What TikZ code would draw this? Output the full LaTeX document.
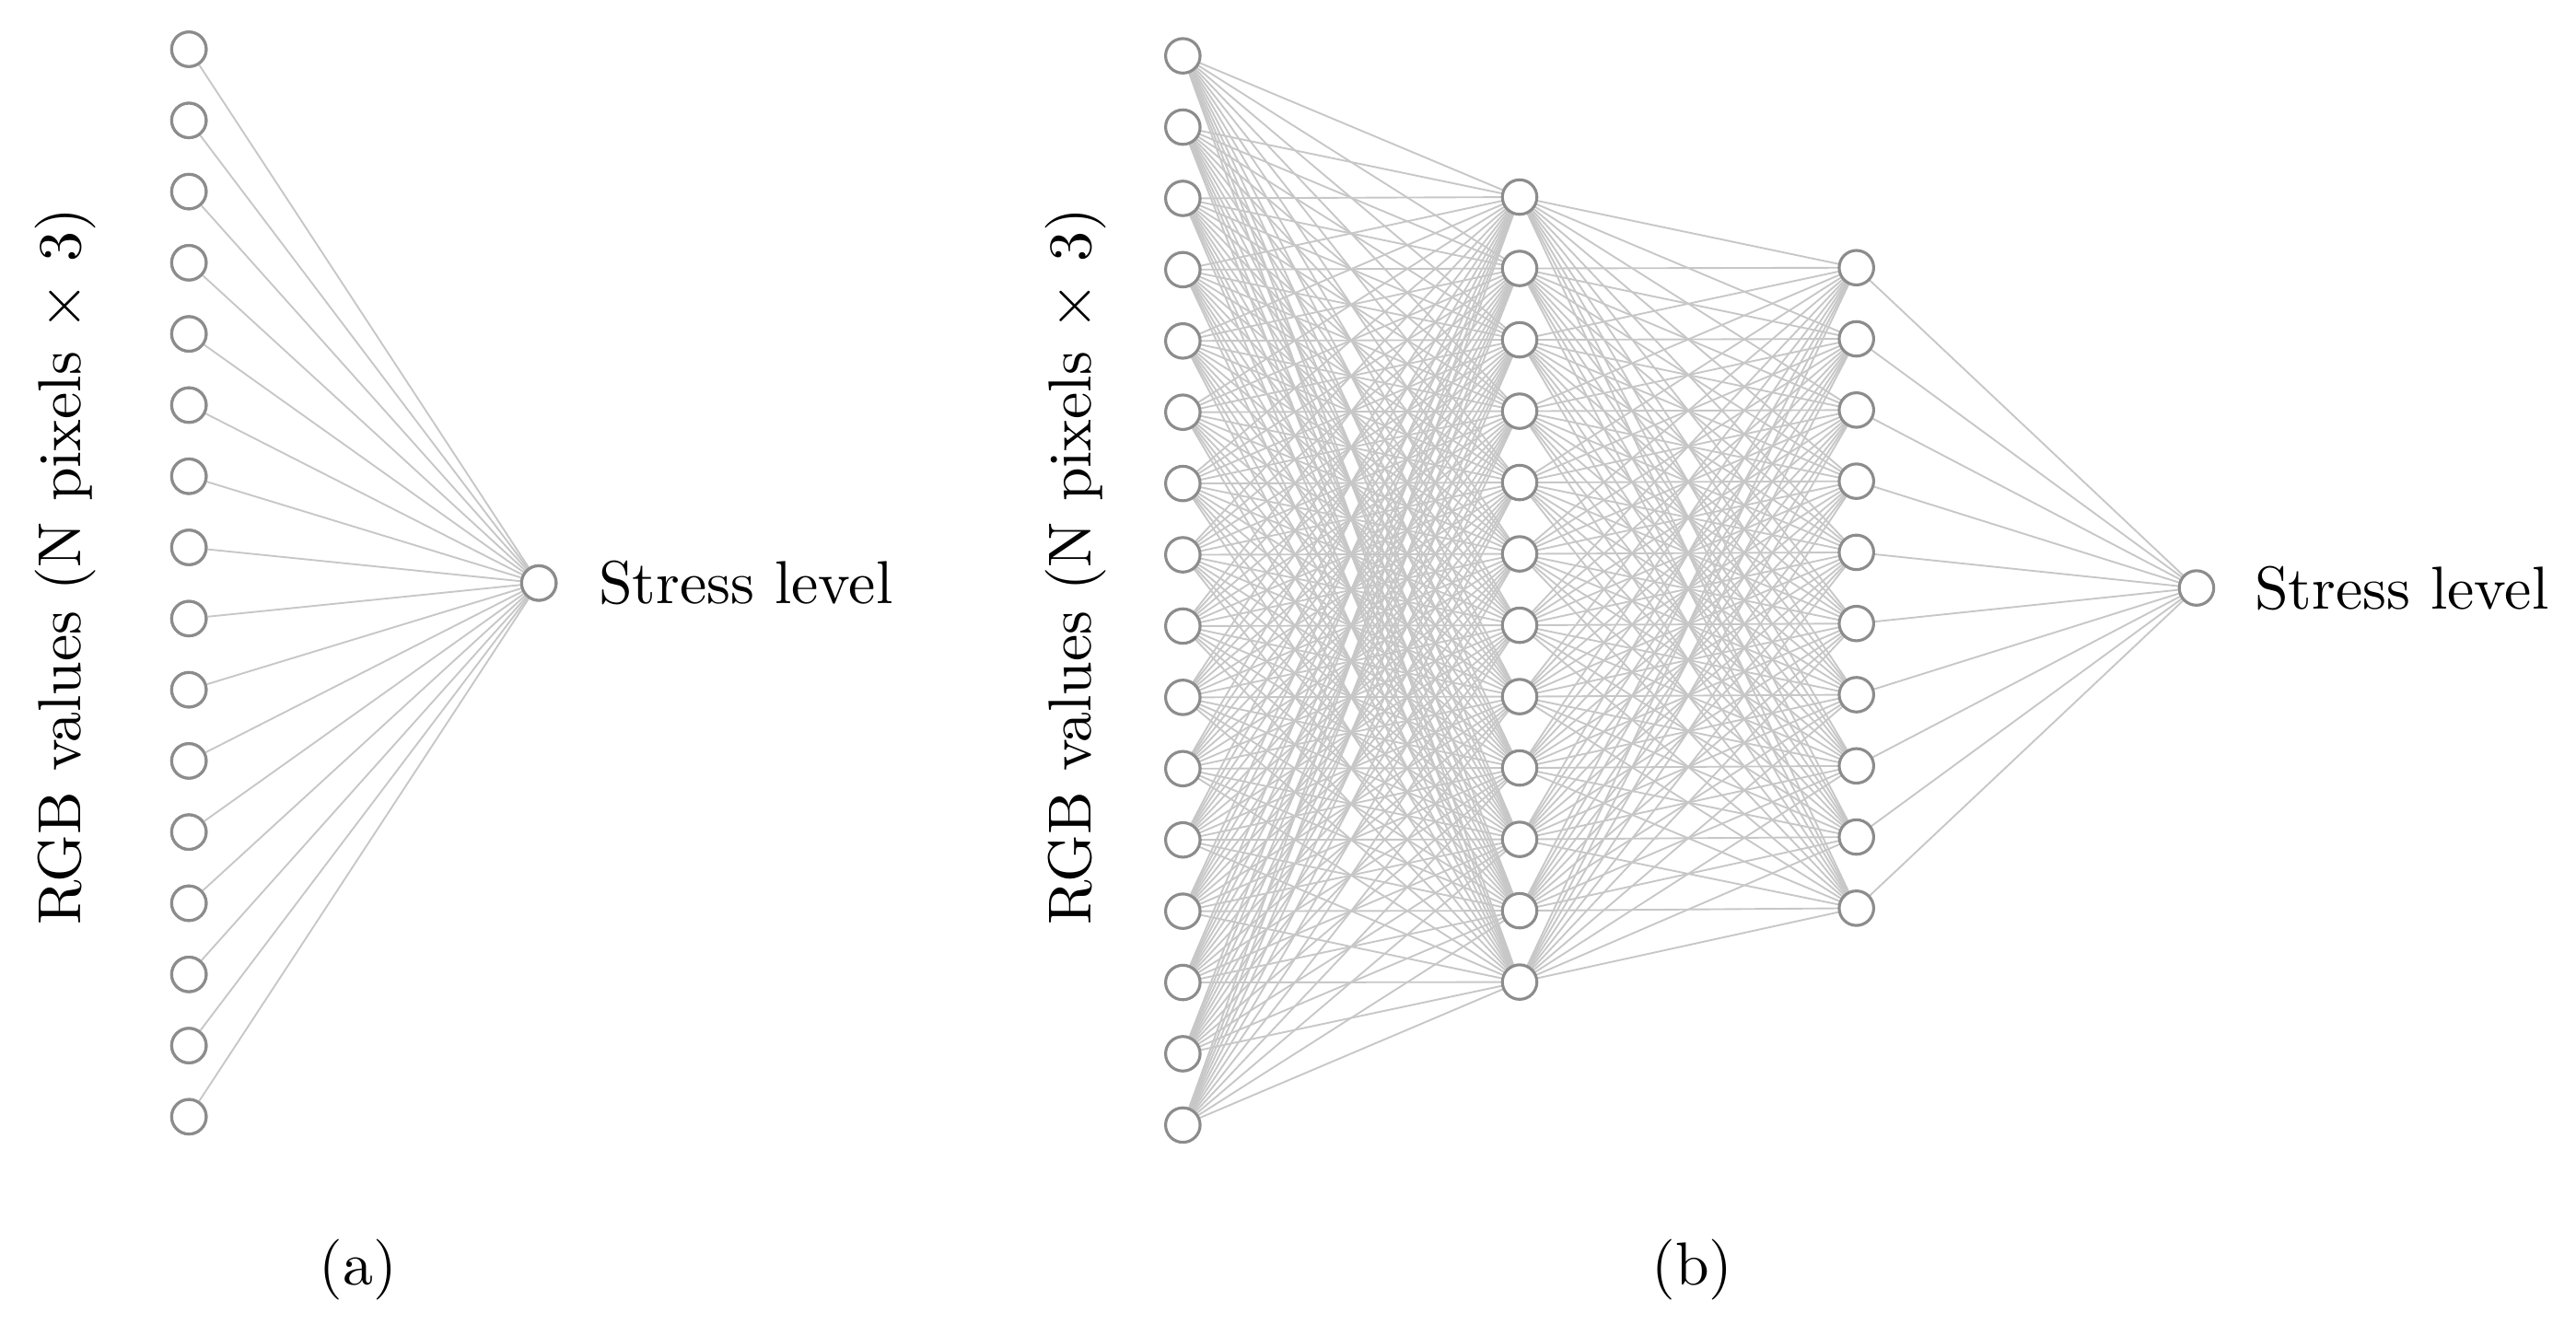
\documentclass[tikz,border=0pt]{standalone}
\begin{document}
\begin{tikzpicture}[x=0.01cm,y=-0.01cm,
  neuron/.style={circle,draw=black!45,fill=white,line width=0.5pt,minimum size=0.21cm,inner sep=0pt},
  conn/.style={draw=black!22,line width=0.3pt},
  lbl/.style={font=\fontsize{10.5}{12}\selectfont}]
\useasboundingbox (0,0) rectangle (1568,813);
% panel a
\foreach \i in {0,...,15} \node[neuron] (a\i) at (115,{30+\i*43.33}) {};
\node[neuron] (ao) at (328,355) {};
\begin{scope}[on background layer/.try]\end{scope}
\foreach \i in {0,...,15} \draw[conn] (a\i) -- (ao);
\foreach \i in {0,...,15} \node[neuron] at (a\i) {};
\node[neuron] at (ao) {};
\node[lbl,anchor=west] (sa) at (352,355) {Stress level};
\node[lbl,rotate=90] (ra) at (40,345) {RGB values (N pixels $\times$ 3)};
\node[lbl] (ca) at (218,773) {(a)};
% panel b
\foreach \i in {0,...,15} \coordinate (b\i) at (720,{34+\i*43.4});
\foreach \j in {0,...,11} \coordinate (h\j) at (925,{120+\j*43.45});
\foreach \k in {0,...,9} \coordinate (g\k) at (1130,{163+\k*43.33});
\coordinate (bo) at (1337,358);
\foreach \i in {0,...,15}{\foreach \j in {0,...,11} \draw[conn] (b\i) -- (h\j);}
\foreach \j in {0,...,11}{\foreach \k in {0,...,9} \draw[conn] (h\j) -- (g\k);}
\foreach \k in {0,...,9} \draw[conn] (g\k) -- (bo);
\foreach \i in {0,...,15} \node[neuron] (nb\i) at (b\i) {};
\foreach \j in {0,...,11} \node[neuron] (nh\j) at (h\j) {};
\foreach \k in {0,...,9} \node[neuron] (ng\k) at (g\k) {};
\node[neuron] (nbo) at (bo) {};
\node[lbl,anchor=west] (sb) at (1360,358) {Stress level};
\node[lbl,rotate=90] (rb) at (655,345) {RGB values (N pixels $\times$ 3)};
\node[lbl] (cb) at (1030,773) {(b)};
\end{tikzpicture}
\end{document}
